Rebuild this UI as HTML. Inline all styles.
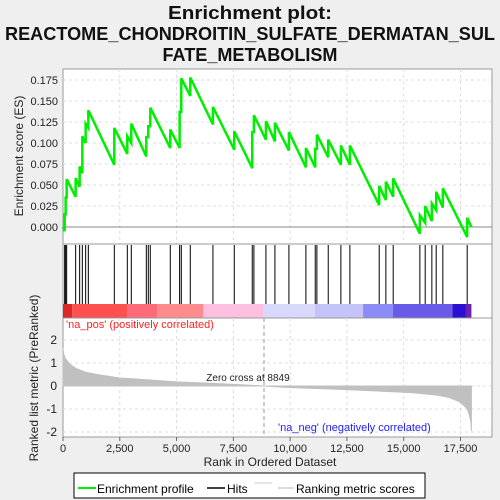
<!DOCTYPE html>
<html><head><meta charset="utf-8"><style>
body{margin:0;background:#efefef;font-family:"Liberation Sans",sans-serif}
svg{display:block}
</style></head><body>
<svg id="c" width="500" height="500" xmlns="http://www.w3.org/2000/svg">
<rect width="500" height="500" fill="#efefef"/>
<g font-weight="bold" font-size="18" text-anchor="middle" fill="#111">
<text x="250" y="19" textLength="164" lengthAdjust="spacingAndGlyphs">Enrichment plot:</text>
<text x="250" y="40" textLength="490" lengthAdjust="spacingAndGlyphs">REACTOME_CHONDROITIN_SULFATE_DERMATAN_SUL</text>
<text x="250" y="61" textLength="175" lengthAdjust="spacingAndGlyphs">FATE_METABOLISM</text>
</g>
<g id="es"></g><g id="hits"></g><g id="metric"></g>
<g>
<rect x="74" y="473" width="351" height="25" fill="#fff" stroke="#000"/>
<line x1="78" y1="488" x2="96" y2="488" stroke="#00ee00" stroke-width="2"/>
<text x="97" y="493" font-size="12">Enrichment profile</text>
<line x1="207" y1="488" x2="225" y2="488" stroke="#000" stroke-width="1.5"/>
<text x="227" y="493" font-size="12">Hits</text>
<line x1="254" y1="483" x2="272" y2="483" stroke="#ccc"/>
<line x1="278" y1="488" x2="294" y2="488" stroke="#bbb"/>
<text x="296" y="493" font-size="12">Ranking metric scores</text>
</g>
</svg>
<script>
const hitRanks=[73,117,161,557,733,851,997,1115,2259,2831,3007,3667,3755,3843,4723,5134,5208,5604,6601,7540,8332,8405,8934,9330,9946,10694,11105,11178,11677,12234,12630,13921,14214,14537,15711,15946,16239,16430,16723,17794];
const esBefore=[-0.005,0.015,0.035,0.036,0.048,0.064,0.100,0.118,0.074,0.087,0.100,0.084,0.107,0.120,0.094,0.094,0.137,0.156,0.122,0.092,0.070,0.113,0.104,0.102,0.091,0.071,0.071,0.093,0.083,0.074,0.074,0.026,0.032,0.036,-0.008,0.005,0.007,0.020,0.023,-0.012];
const esAfter=[0.015,0.035,0.057,0.058,0.072,0.108,0.123,0.139,0.118,0.108,0.123,0.107,0.120,0.142,0.116,0.137,0.177,0.178,0.143,0.114,0.113,0.133,0.126,0.124,0.113,0.094,0.093,0.110,0.104,0.097,0.097,0.049,0.054,0.058,0.014,0.025,0.028,0.042,0.046,0.011];
const metricRanks=[0,30,100,300,600,1000,1500,2500,4000,5000,6500,7500,8849,10000,11500,13000,14500,15500,16500,17000,17500,17800,17900,17960,17980];
const metricVals=[1.65,1.4,1.2,0.95,0.75,0.6,0.5,0.35,0.25,0.18,0.12,0.07,0,-0.07,-0.12,-0.18,-0.25,-0.3,-0.4,-0.5,-0.7,-1.0,-1.3,-1.6,-1.95];
const xTicks=[0,2500,5000,7500,10000,12500,15000,17500];
const xTickLabels=["0","2,500","5,000","7,500","10,000","12,500","15,000","17,500"];
const esTicks=[0,0.025,0.05,0.075,0.1,0.125,0.15,0.175];
const esTickLabels=["0.000","0.025","0.050","0.075","0.100","0.125","0.150","0.175"];
const mTicks=[2,1,0,-1,-2];
const N=17980, zeroCross=8849;
const NS='http://www.w3.org/2000/svg';
const L=63,R=492;
const X=r=>L+r*397.5/17500;
const YE=v=>227-v*840;
const YM=v=>386-v*23.0;
function el(p,t,a){const e=document.createElementNS(NS,t);for(const k in a)e.setAttribute(k,a[k]);p.appendChild(e);return e;}
const es=document.getElementById('es'),hg=document.getElementById('hits'),mg=document.getElementById('metric');
el(es,'rect',{x:L,y:69,width:R-L,height:175,fill:'#fff',stroke:'#999'});
xTicks.forEach(t=>{if(t>0)el(es,'line',{x1:X(t),x2:X(t),y1:69,y2:244,stroke:'#ddd','stroke-dasharray':'3,3'});});
esTicks.forEach((t,i)=>{
 if(t>0)el(es,'line',{x1:L,x2:R,y1:YE(t),y2:YE(t),stroke:'#ddd','stroke-dasharray':'3,3'});
 const tx=el(es,'text',{x:L-5,y:YE(t)+4,'font-size':'11','text-anchor':'end',fill:'#222'});tx.textContent=esTickLabels[i];
});
el(es,'line',{x1:L,x2:R,y1:YE(0),y2:YE(0),stroke:'#888'});
let pts=[[X(0),YE(0)]];
hitRanks.forEach((r,i)=>{pts.push([X(r),YE(esBefore[i])]);pts.push([X(r),YE(esAfter[i])]);});
pts.push([X(N),YE(0)]);
const pl=el(es,'polyline',{points:pts.map(p=>p.join(',')).join(' '),fill:'none',stroke:'#00ee00','stroke-width':'2.5'});


const yt=el(es,'text',{x:0,y:0,'font-size':'12','text-anchor':'middle',transform:'translate(23,156) rotate(-90)',fill:'#222'});yt.textContent='Enrichment score (ES)';


el(hg,'rect',{x:L,y:244,width:R-L,height:74,fill:'#fff',stroke:'#999'});
hitRanks.forEach(r=>{const h=el(hg,'line',{x1:X(r),x2:X(r),y1:245,y2:304,stroke:'#000','stroke-width':'1'});
 
 });
const bands=[[0,400,'#dd2828'],[400,2820,'#ff5050'],[2820,4150,'#ff6a78'],[4150,6180,'#ff8c8c'],[6180,8830,'#ffc0e0'],[8830,11090,'#d8d8fa'],[11090,13210,'#c4c4f8'],[13210,14520,'#8c8cf8'],[14520,17150,'#6a5ae8'],[17150,17740,'#2a10d0'],[17740,17980,'#6a20b0']];
bands.forEach(b=>el(hg,'rect',{x:X(b[0]),y:304,width:X(b[1])-X(b[0]),height:14,fill:b[2]}));
el(mg,'rect',{x:L,y:318,width:R-L,height:119,fill:'#fff',stroke:'#999'});
xTicks.forEach(t=>{if(t>0)el(mg,'line',{x1:X(t),x2:X(t),y1:318,y2:437,stroke:'#ddd','stroke-dasharray':'3,3'});});
mTicks.forEach(t=>{el(mg,'line',{x1:L,x2:R,y1:YM(t),y2:YM(t),stroke:'#ddd','stroke-dasharray':'3,3'});
 const tx=el(mg,'text',{x:L-6,y:YM(t)+4,'font-size':'12','text-anchor':'end',fill:'#222'});tx.textContent=t;});
let mp=[[X(0),YM(0)]];metricRanks.forEach((r,i)=>mp.push([X(r),YM(metricVals[i])]));mp.push([X(N),YM(0)]);
const ar=el(mg,'polygon',{points:mp.map(p=>p.join(',')).join(' '),fill:'#c0c0c0',stroke:'#c0c0c0'});


el(mg,'line',{x1:X(zeroCross),x2:X(zeroCross),y1:318,y2:437,stroke:'#999','stroke-dasharray':'4,3'});
let t=el(mg,'text',{x:X(zeroCross)-16,y:381,'font-size':'10','text-anchor':'middle',fill:'#222'});t.textContent='Zero cross at '+zeroCross;
t=el(mg,'text',{x:66,y:328,'font-size':'11',fill:'#ff2020'});t.textContent="'na_pos' (positively correlated)";
t=el(mg,'text',{x:278,y:431,'font-size':'11',fill:'#2020ff'});t.textContent="'na_neg' (negatively correlated)";
xTicks.forEach((tk,i)=>{el(mg,'line',{x1:X(tk),x2:X(tk),y1:437,y2:441,stroke:'#666'});
 const tx=el(mg,'text',{x:X(tk),y:452,'font-size':'11','text-anchor':'middle',fill:'#222'});tx.textContent=xTickLabels[i];});
t=el(mg,'text',{x:270,y:466,'font-size':'12','text-anchor':'middle',fill:'#222'});t.textContent='Rank in Ordered Dataset';


t=el(mg,'text',{x:0,y:0,'font-size':'12','text-anchor':'middle',transform:'translate(38,378) rotate(-90)',fill:'#222'});t.textContent='Ranked list metric (PreRanked)';


</script>
</body></html>
